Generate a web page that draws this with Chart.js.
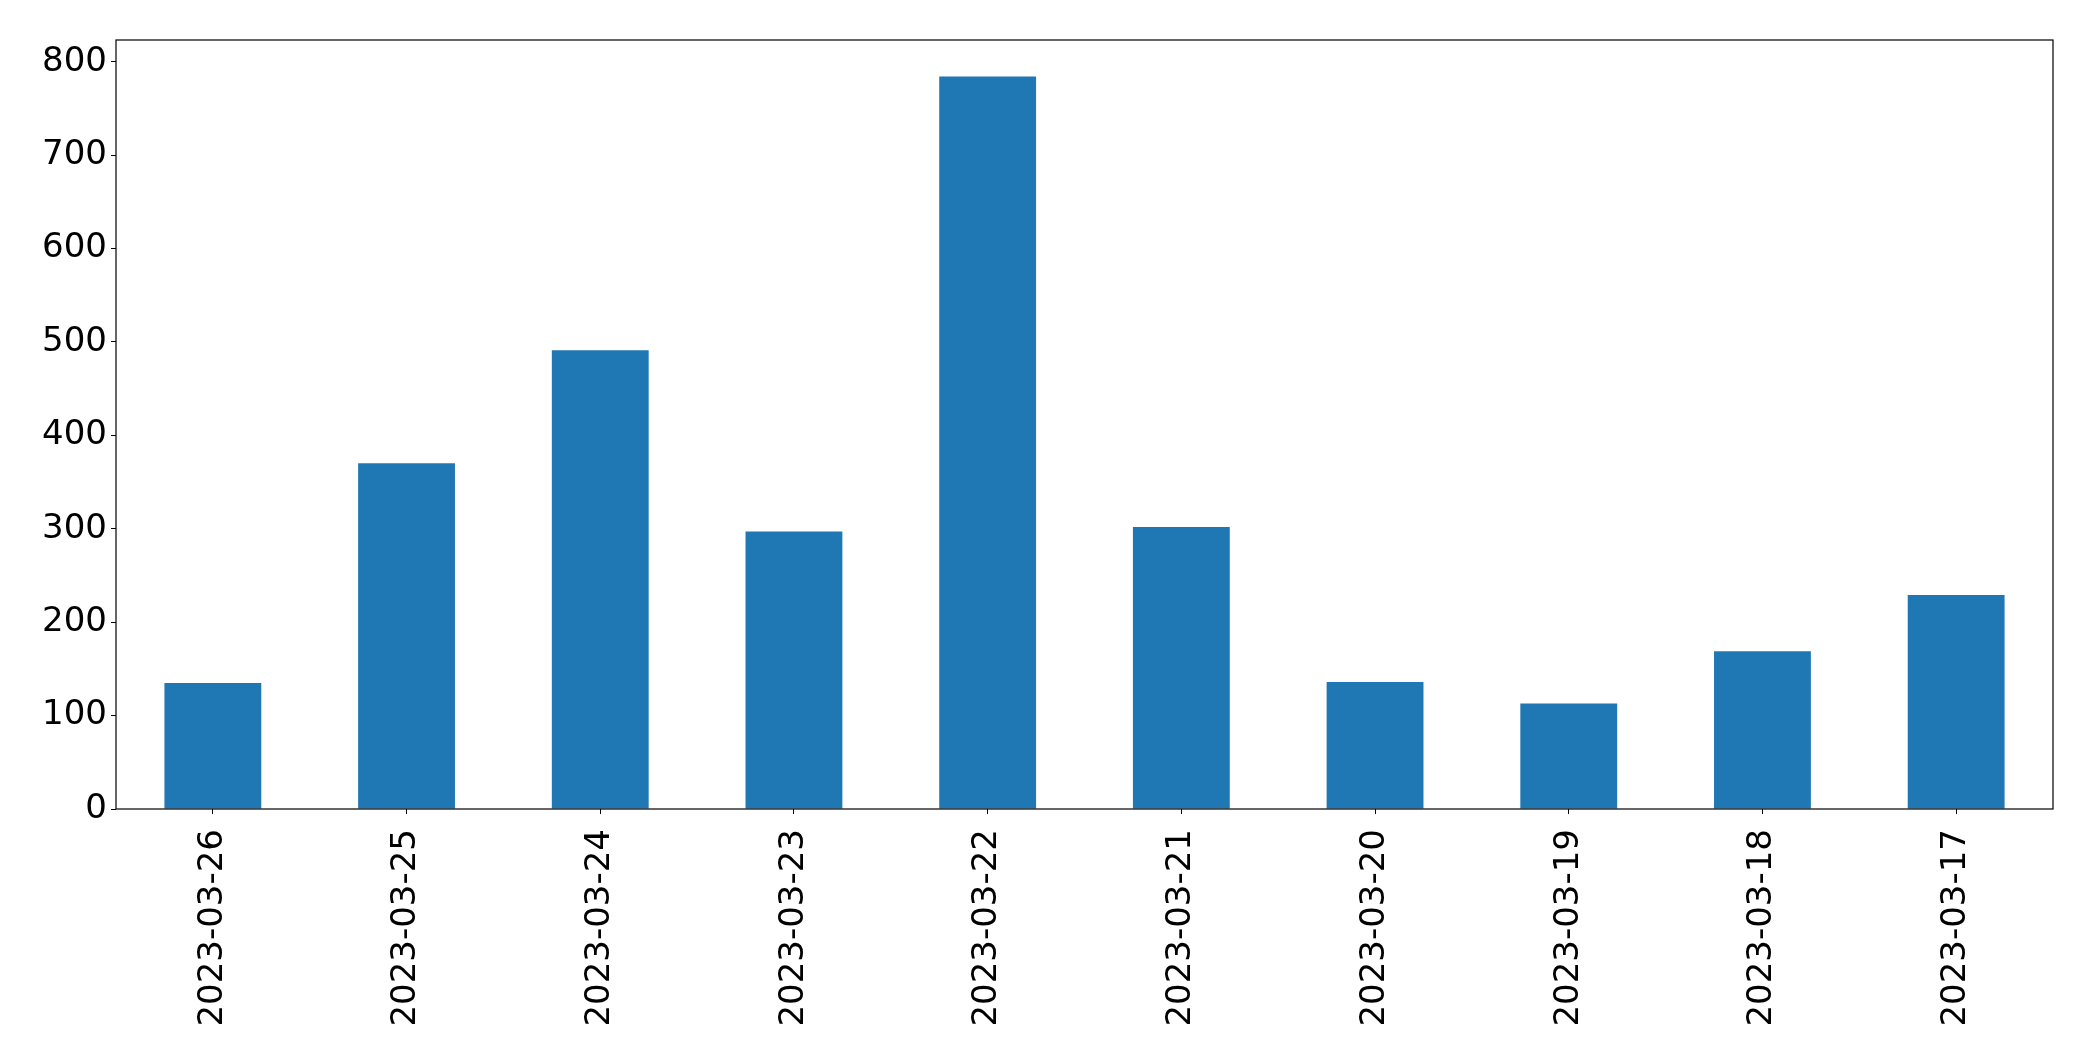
<!DOCTYPE html>
<html>
<head>
<meta charset="utf-8">
<script src="https://cdn.jsdelivr.net/npm/chart.js@4/dist/chart.umd.min.js"></script>
<style>
    html, body { margin: 0; padding: 0; background: #fff; }
    #wrap { width: 2093px; height: 1061px; }
</style>
</head>
<body>
<div id="wrap"><canvas id="barChart"></canvas></div>
<script>
// daily counts, newest first (as in the original plot)
var dates = ['2023-03-26', '2023-03-25', '2023-03-24', '2023-03-23', '2023-03-22',
             '2023-03-21', '2023-03-20', '2023-03-19', '2023-03-18', '2023-03-17'];
var counts = [135, 370, 491, 297, 784, 302, 136, 113, 169, 229];
var yTicks = [0, 100, 200, 300, 400, 500, 600, 700, 800];

(function() {
    var tickFont = { family: 'DejaVu Sans', size: 34 };

    // matplotlib style box around the plot area
    var frame = {
        id: 'frame',
        afterDatasetsDraw: function(chart) {
            var a = chart.chartArea, ctx = chart.ctx;
            ctx.save();
            ctx.strokeStyle = '#000';
            ctx.lineWidth = 1.2;
            ctx.strokeRect(a.left, a.top, a.right - a.left, a.bottom - a.top);
            ctx.restore();
        }
    };

    var maxVal = Math.max.apply(null, counts);

    new Chart(document.getElementById('barChart'), {
        type: 'bar',
        data: {
            labels: dates,
            datasets: [{
                data: counts,
                backgroundColor: '#1f77b4',
                barPercentage: 0.5,
                categoryPercentage: 1
            }]
        },
        options: {
            responsive: true,
            maintainAspectRatio: false,
            animation: false,
            layout: { padding: { top: 40, right: 40, left: 0, bottom: 0 } },
            plugins: { legend: { display: false }, tooltip: { enabled: false } },
            scales: {
                x: {
                    offset: true,
                    grid: { display: true, offset: false, drawOnChartArea: false, drawTicks: true, tickLength: 5, tickColor: '#000' },
                    border: { display: false },
                    ticks: { color: '#000', font: tickFont, minRotation: 90, maxRotation: 90, padding: 15, autoSkip: false },
                    afterFit: function(scale) { scale.height = 252; }
                },
                y: {
                    min: 0,
                    max: maxVal * 1.05,
                    grid: { display: true, drawOnChartArea: false, drawTicks: true, tickLength: 5, tickColor: '#000' },
                    border: { display: false },
                    afterBuildTicks: function(scale) {
                        scale.ticks = yTicks.map(function(v) { return { value: v }; });
                    },
                    ticks: { color: '#000', font: tickFont, padding: 4 },
                    afterFit: function(scale) { scale.width = 116; }
                }
            }
        },
        plugins: [frame]
    });
})();
</script>
</body>
</html>
